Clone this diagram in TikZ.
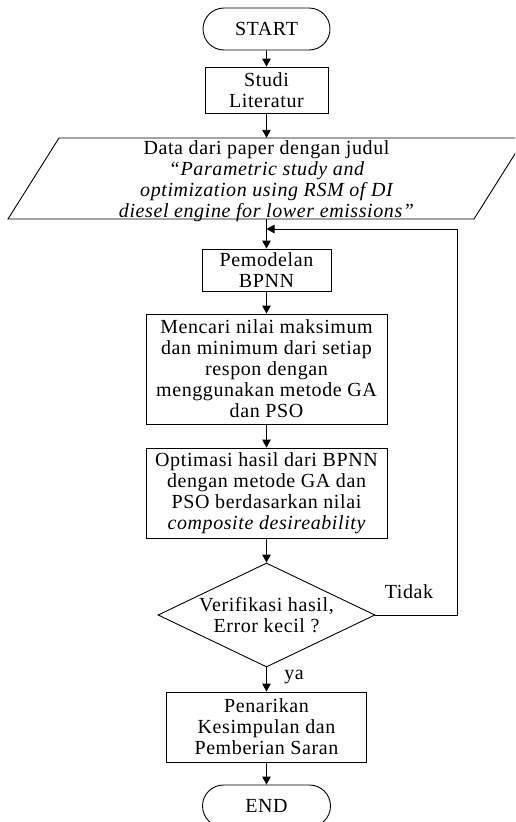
\documentclass[tikz,border=0pt]{standalone}
\usepackage{fontspec}
\setmainfont[LetterSpace=3]{Liberation Serif}
\usetikzlibrary{shapes.misc,shapes.geometric,arrows.meta}
\newcommand\myfs{\fontsize{20pt}{21pt}\selectfont}
\tikzset{
  base/.style={draw=black, line width=0.9pt, align=center, font=\myfs, inner sep=0pt},
  term/.style={base, rounded rectangle, minimum width=127pt, minimum height=42pt},
  proc/.style={base, rectangle},
  txt/.style={align=center, font=\myfs, inner sep=0pt},
  arr/.style={line width=0.9pt, -{Triangle[length=8pt,width=8.5pt]}}
}
\begin{document}
\begin{tikzpicture}[x=1pt,y=-1pt]
\useasboundingbox (0,0) rectangle (515,822);
\clip (0,0) rectangle (515,822);

\node[term] (start) at (266.5,29) {START};
\node[proc, minimum width=123pt, minimum height=46pt] (studi) at (266.5,90) {Studi\\Literatur};

\node[txt, minimum width=415pt, minimum height=81pt] (data) at (266.5,178.5) {};
\draw[line width=0.9pt] (8,219) -- (59,138) -- (525,138) -- (474,219) -- cycle;
\node[txt] (datatext) at (266.5,181) {Data dari paper dengan judul\\\itshape “Parametric study and\\\itshape optimization using RSM of DI\\\itshape diesel engine for lower emissions”};

\node[proc, minimum width=129pt, minimum height=42pt] (model) at (266.5,270) {Pemodelan\\BPNN};
\node[proc, minimum width=241pt, minimum height=110pt] (cari) at (266.5,369) {Mencari nilai maksimum\\dan minimum dari setiap\\respon dengan\\menggunakan metode GA\\dan PSO};
\node[proc, minimum width=241pt, minimum height=90pt] (opt) at (266.5,493) {Optimasi hasil dari BPNN\\dengan metode GA dan\\PSO berdasarkan nilai\\\itshape composite desireability};
\node[base, diamond, minimum width=217pt, minimum height=104pt] (dia) at (266.5,615) {};
\node[txt] (diatext) at (266.5,615) {Verifikasi hasil,\\Error kecil ?};
\node[proc, minimum width=200pt, minimum height=70pt] (tarik) at (266.5,727) {Penarikan\\Kesimpulan dan\\Pemberian Saran};
\node[term, minimum width=128pt] (end) at (266.5,806) {END};

\node[txt] (tidak) at (409,592) {Tidak};
\node[txt] (ya) at (294,677) {ya};

\coordinate (fb) at (266.5,229);
\coordinate (fbr) at (457,229);

\draw[arr] (start) -- (studi);
\draw[arr] (studi) -- (data.north);
\draw[arr] (data.south) -- (model);
\draw[arr] (model) -- (cari);
\draw[arr] (cari) -- (opt);
\draw[arr] (opt) -- (dia.north);
\draw[arr] (dia.south) -- (tarik);
\draw[arr] (tarik) -- (end);
\draw[arr] (dia.east) -| (fbr) -- (fb);
\end{tikzpicture}
\end{document}
